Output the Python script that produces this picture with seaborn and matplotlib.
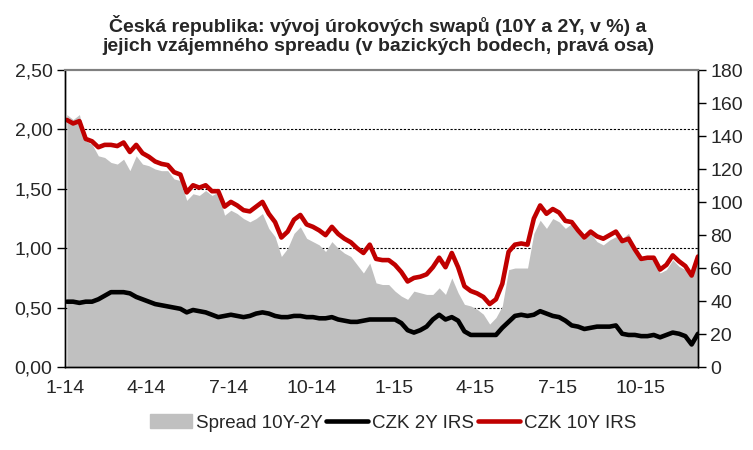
import numpy as np
import pandas as pd
import matplotlib
matplotlib.use("Agg")
import matplotlib.pyplot as plt
from matplotlib.patches import Patch
from matplotlib.lines import Line2D
import seaborn as sns

# weekly observations (Fridays), values in %
dates = pd.date_range("2014-01-03", periods=101, freq="7D")
irs_10y = [
    2.08, 2.05, 2.07, 1.92, 1.90, 1.85, 1.87, 1.87, 1.86, 1.89,
    1.81, 1.87, 1.80, 1.77, 1.73, 1.71, 1.70, 1.64, 1.62, 1.47,
    1.53, 1.51, 1.53, 1.48, 1.48, 1.35, 1.39, 1.36, 1.32, 1.31,
    1.35, 1.39, 1.29, 1.22, 1.09, 1.14, 1.24, 1.28, 1.20, 1.18,
    1.15, 1.11, 1.18, 1.12, 1.08, 1.05, 1.00, 0.96, 1.03, 0.91,
    0.90, 0.90, 0.86, 0.80, 0.72, 0.75, 0.76, 0.78, 0.84, 0.92,
    0.84, 0.96, 0.84, 0.68, 0.64, 0.62, 0.59, 0.53, 0.57, 0.70,
    0.97, 1.03, 1.04, 1.03, 1.25, 1.36, 1.29, 1.33, 1.30, 1.23,
    1.22, 1.15, 1.09, 1.14, 1.10, 1.08, 1.11, 1.14, 1.06, 1.08,
    0.99, 0.91, 0.92, 0.92, 0.82, 0.86, 0.94, 0.89, 0.85, 0.77,
    0.93,
]
irs_2y = [
    0.55, 0.55, 0.54, 0.55, 0.55, 0.57, 0.60, 0.63, 0.63, 0.63,
    0.62, 0.59, 0.57, 0.55, 0.53, 0.52, 0.51, 0.50, 0.49, 0.46,
    0.48, 0.47, 0.46, 0.44, 0.42, 0.43, 0.44, 0.43, 0.42, 0.43,
    0.45, 0.46, 0.45, 0.43, 0.42, 0.42, 0.43, 0.43, 0.42, 0.42,
    0.41, 0.41, 0.42, 0.40, 0.39, 0.38, 0.38, 0.39, 0.40, 0.40,
    0.40, 0.40, 0.40, 0.37, 0.31, 0.29, 0.31, 0.34, 0.40, 0.44,
    0.40, 0.42, 0.39, 0.30, 0.27, 0.27, 0.27, 0.27, 0.27, 0.33,
    0.38, 0.43, 0.44, 0.43, 0.44, 0.47, 0.45, 0.43, 0.42, 0.39,
    0.35, 0.34, 0.32, 0.33, 0.34, 0.34, 0.34, 0.35, 0.28, 0.27,
    0.27, 0.26, 0.26, 0.27, 0.25, 0.27, 0.29, 0.28, 0.26, 0.19,
    0.28,
]

df = pd.DataFrame({"date": dates, "irs_10y": irs_10y, "irs_2y": irs_2y})
# spread in basis points
df["spread"] = (df["irs_10y"] - df["irs_2y"]) * 100

tick_dates = pd.to_datetime(["2014-01-01", "2014-04-01", "2014-07-01", "2014-10-01",
                             "2015-01-01", "2015-04-01", "2015-07-01", "2015-10-01"])
tick_labels = ["1-14", "4-14", "7-14", "10-14", "1-15", "4-15", "7-15", "10-15"]

sns.set_style("white")
plt.rcParams["font.family"] = ["Liberation Sans", "DejaVu Sans"]
plt.rcParams["font.size"] = 14

grey = "#c0c0c0"
red = "#c00000"

fig = plt.figure(figsize=(7.53, 4.5), dpi=100)
ax = fig.add_axes([0.0863, 0.1844, 0.8406, 0.66])
ax2 = ax.twinx()

# spread area on the right axis, with dotted grid behind it
for g in [36, 72, 108, 144]:
    ax2.axhline(g, color="black", lw=0.8, ls=(0, (2, 1.5)), zorder=0)
ax2.fill_between(df["date"], 0, df["spread"], color=grey, lw=0, zorder=1)
ax2.set_ylim(0, 180)
ax2.set_yticks(range(0, 181, 20))

# lines on the left axis, drawn above the area
ax.set_zorder(ax2.get_zorder() + 1)
ax.patch.set_visible(False)
sns.lineplot(data=df, x="date", y="irs_2y", ax=ax, color="black", lw=3.3, legend=False)
sns.lineplot(data=df, x="date", y="irs_10y", ax=ax, color=red, lw=3.3, legend=False)
ax.set_ylim(0, 2.5)
ax.set_yticks(np.arange(0, 2.51, 0.5))
ax.set_yticklabels([f"{v:.2f}".replace(".", ",") for v in np.arange(0, 2.51, 0.5)])
ax.set_xlim(pd.Timestamp("2014-01-01"), df["date"].iloc[-1])
ax.set_xticks(tick_dates)
ax.set_xticklabels(tick_labels)
ax.set_xlabel("")
ax.set_ylabel("")

for a in (ax, ax2):
    a.tick_params(direction="out", length=6, width=1, color="black", labelsize=14, pad=3)
    for s in ["left", "right", "bottom"]:
        a.spines[s].set_color("black")
        a.spines[s].set_linewidth(1)
    a.spines["top"].set_color("#808080")
    a.spines["top"].set_linewidth(1.5)
ax.tick_params(axis="y", right=False)
ax2.tick_params(axis="y", left=False)

fig.text(0.502, 1 - 32 / 450, "Česká republika: vývoj úrokových swapů (10Y a 2Y, v %) a",
         ha="center", va="baseline", fontsize=14, fontweight="bold")
fig.text(0.502, 1 - 51 / 450, "jejich vzájemného spreadu (v bazických bodech, pravá osa)",
         ha="center", va="baseline", fontsize=14, fontweight="bold")

handles = [Patch(color=grey), Line2D([], [], color="black", lw=3.3), Line2D([], [], color=red, lw=3.3)]
fig.legend(handles, ["Spread 10Y-2Y", "CZK 2Y IRS", "CZK 10Y IRS"], loc="center",
           bbox_to_anchor=(0.522, 1 - 423 / 450), ncol=3, frameon=False, fontsize=13.5,
           handlelength=2.25, handletextpad=0.2, columnspacing=0.2)

fig.savefig("out.png", dpi=100)
